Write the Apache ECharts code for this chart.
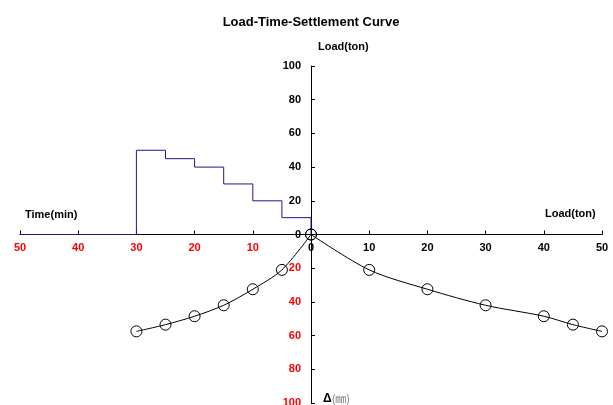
<!DOCTYPE html>
<html><head><meta charset="utf-8">
<script src="https://cdn.jsdelivr.net/npm/echarts@6/dist/echarts.min.js"></script>
<style>html,body{margin:0;padding:0;background:#fff}#c{width:613px;height:405px}</style>
</head><body><div id="c"></div>
<script>
// Load-time steps (time in min, load in ton) — left side
var stepTime = [50, 30, 25, 20, 15, 10, 5, 0];
var stepLoad = [0, 50, 45, 40, 30, 20, 10, 0];
// Time vs settlement — left side
var settleTime = [0, 5, 10, 15, 20, 25, 30];
var settleTimeVal = [0, 21, 32.5, 42, 48.5, 53.5, 57.5];
// Load vs settlement — right side
var settleLoad = [0, 10, 20, 30, 40, 45, 50];
var settleLoadVal = [0, 21, 32.5, 42, 48.5, 53.5, 57.5];
// Axis ticks
var xTicks = [-50, 50, 10];
var yTicks = [-100, 100, 20];

var FONT = '"Liberation Sans", Arial, sans-serif';
var GL = 20, GR = 11, GT = 66, GB = 2, W = 613, H = 405;
var chart = echarts.init(document.getElementById('c'));
function lbl(v){ var a=Math.abs(v); return v<0 ? '{r|'+a+'}' : '{k|'+a+'}'; }
var rich = {
  r:{color:'#FF0000',fontWeight:'bold',fontSize:11,fontFamily:FONT},
  k:{color:'#000',fontWeight:'bold',fontSize:11,fontFamily:FONT}
};
var ptStyle = {color:'rgba(0,0,0,0)',borderColor:'#000',borderWidth:1};
chart.setOption({
  animation:false,
  backgroundColor:'#fff',
  title:{text:'Load-Time-Settlement Curve',left:306,top:11,textAlign:'center',
    textStyle:{fontFamily:FONT,fontSize:13,fontWeight:'bold',color:'#000'}},
  grid:{left:GL,right:GR,top:GT,bottom:GB,containLabel:false,outerBoundsMode:'none'},
  xAxis:{type:'value',min:xTicks[0],max:xTicks[1],interval:xTicks[2],
    axisLine:{onZero:false,lineStyle:{color:'#000',width:1}},
    axisTick:{inside:true,length:4,lineStyle:{color:'#000'}},
    splitLine:{show:false},
    axisLabel:{margin:8,formatter:lbl,rich:rich,hideOverlap:false}},
  yAxis:{type:'value',min:yTicks[0],max:yTicks[1],interval:yTicks[2],
    axisLine:{onZero:false,lineStyle:{color:'#000',width:1}},
    axisTick:{inside:true,length:4,lineStyle:{color:'#000'}},
    splitLine:{show:false},
    axisLabel:{margin:10,formatter:lbl,rich:rich,hideOverlap:false}},
  graphic:[
    {type:'text',left:318,top:41,style:{text:'Load(ton)',font:'bold 11px '+FONT,fill:'#000'}},
    {type:'text',left:25,top:209,style:{text:'Time(min)',font:'bold 11px '+FONT,fill:'#000'}},
    {type:'text',left:545,top:208,style:{text:'Load(ton)',font:'bold 11px '+FONT,fill:'#000'}},
    {type:'text',left:323,top:393,style:{text:'{d|Δ}{u|(㎜)}',rich:{
      d:{font:'bold 12px '+FONT,fill:'#000'},
      u:{font:'11px "Noto Sans CJK JP", '+FONT,fill:'#777'}}}}
  ],
  series:[
    {type:'line',step:'end',symbol:'none',
      lineStyle:{color:'#1a1a8a',width:1},
      data:stepTime.map(function(t,i){return [-t,stepLoad[i]];})},
    {type:'line',smooth:0.3,symbol:'circle',symbolSize:11,
      lineStyle:{color:'#000',width:1},itemStyle:ptStyle,
      data:settleTime.map(function(t,i){return [-t,-settleTimeVal[i]];})},
    {type:'line',smooth:0.3,symbol:'circle',symbolSize:11,
      lineStyle:{color:'#000',width:1},itemStyle:ptStyle,
      data:settleLoad.map(function(l,i){return [l,-settleLoadVal[i]];})}
  ]
});
// Move both axes (line, ticks, labels) to cross at the origin
var p0 = chart.convertToPixel({gridIndex:0},[0,0]);
chart.setOption({
  xAxis:{offset: -((H - GB) - p0[1])},
  yAxis:{offset: -(p0[0] - GL)}
});
</script></body></html>
